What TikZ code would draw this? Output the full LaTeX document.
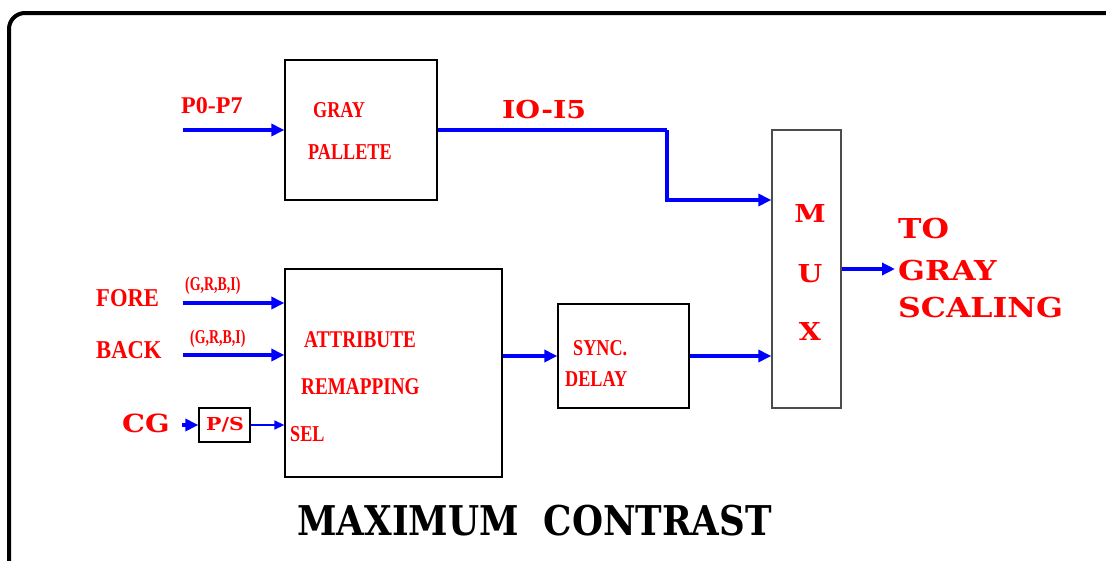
\documentclass[tikz,border=0pt]{standalone}
\usepackage{fontspec}
\setmainfont{Liberation Serif}
\newfontfamily\narrowserif[FakeStretch=0.8]{Liberation Serif}
\newfontfamily\midserif[FakeStretch=0.88]{Liberation Serif}
\newfontfamily\tightserif[FakeStretch=0.71]{Liberation Serif}
\newfontfamily\wideserif[FakeStretch=1.15]{DejaVu Serif}
\newfontfamily\titleserif[FakeStretch=0.87]{DejaVu Serif}
\usetikzlibrary{arrows.meta}
\tikzstyle{blk} = [draw=black, line width=1.3pt, inner sep=0pt]
\tikzstyle{bus} = [draw=blue, line width=3.5pt, -{Triangle[length=13pt,width=12pt]}]
\tikzstyle{wire} = [draw=blue, line width=1.4pt, -{Triangle[length=10pt,width=9pt]}]
\tikzstyle{lbl} = [text=red, inner sep=0pt, anchor=base west]
\newcommand{\nlbl}[2][\narrowserif]{\fontsize{#2}{#2}#1\bfseries}
\newcommand{\wlbl}[2][\wideserif]{\fontsize{#2}{#2}#1\bfseries}

\begin{document}
\begin{tikzpicture}[x=1pt, y=-1pt]
\useasboundingbox (0,0) rectangle (1106,560);
\draw[line width=4pt, rounded corners=16pt] (9,13) rectangle (1130,590);

% Blocks
\node[blk, minimum width=152pt, minimum height=140pt] (pal)  at (361,130)   {};
\node[blk, minimum width=217pt, minimum height=208pt] (attr) at (393.5,373) {};
\node[blk, minimum width=131pt, minimum height=104pt] (sync) at (623.5,356) {};
\node[blk, draw=black!70, minimum width=69pt, minimum height=278pt] (mux) at (806.5,269) {};
\node[blk, minimum width=51pt, minimum height=34pt] (ps) at (224.5,425) {};

% Free ends
\coordinate (p0)   at (183,130);
\coordinate (fore) at (183,303);
\coordinate (back) at (183,355);
\coordinate (cg)   at (182,425);
\coordinate (bend) at (667,130);
\coordinate (out)  at (895,269);

% Texts in blocks
\node[lbl, font=\nlbl{22.7}] (t1) at (313,117) {GRAY};
\node[lbl, font=\nlbl{22.7}] (t2) at (308,159) {PALLETE};
\node[lbl, font=\nlbl{24}]   (t3) at (304,347) {ATTRIBUTE};
\node[lbl, font=\nlbl{24}]   (t4) at (301,394) {REMAPPING};
\node[lbl, font=\nlbl{22.7}] (t5) at (290,441) {SEL};
\node[lbl, font=\nlbl{22.7}] (t6) at (573,355) {SYNC.};
\node[lbl, font=\nlbl{22.7}] (t7) at (565,386) {DELAY};
\node[lbl, font=\wlbl{17.8}] (t8) at (206,430) {P/S};
\foreach \ch/\yy in {M/222, U/282, X/340}
  \node[lbl, anchor=base, font=\wlbl{24.7}] at (810,\yy) {\ch};

% Signal labels
\node[lbl, font={\nlbl[\rmfamily]{24}}] (lp) at (181,113) {P0-P7};
\node[lbl, font=\wlbl{24.7}] (li)  at (502,118) {IO-I5};
\node[lbl, font={\nlbl[\midserif]{25.7}}] (lf) at (96,306) {FORE};
\node[lbl, font={\nlbl[\midserif]{25.7}}] (lb) at (96,358) {BACK};
\node[lbl, font=\wlbl{25}]   (lc)  at (122,432) {CG};
\node[lbl, font={\nlbl[\tightserif]{19.6}}] (lf2) at (185,290) {(G,R,B,I)};
\node[lbl, font={\nlbl[\tightserif]{19.6}}] (lb2) at (190,343) {(G,R,B,I)};
\node[lbl, font=\wlbl{27.4}] (lo1) at (898,238) {TO};
\node[lbl, font=\wlbl{27.4}] (lo2) at (898,280) {GRAY};
\node[lbl, font=\wlbl{27.4}] (lo3) at (898,317) {SCALING};
\node[lbl, text=black, font={\wlbl[\titleserif]{41}}] (title) at (297,535) {MAXIMUM\ \ CONTRAST};

% Connectors
\draw[bus] (p0) -- (pal.west);
\draw[bus, -] (pal.east) -- (bend);
\draw[bus] (bend) |- ([yshift=69pt]mux.west);
\draw[bus] (fore) -- (fore -| attr.west);
\draw[bus] (back) -- (back -| attr.west);
\draw[bus] (cg) -- (ps.west);
\draw[wire] (ps.east) -- (ps.east -| attr.west);
\draw[bus] (attr.east |- sync.west) -- (sync.west);
\draw[bus] (sync.east) -- (sync.east -| mux.west);
\draw[bus] (mux.east) -- (out);
\end{tikzpicture}
\end{document}
